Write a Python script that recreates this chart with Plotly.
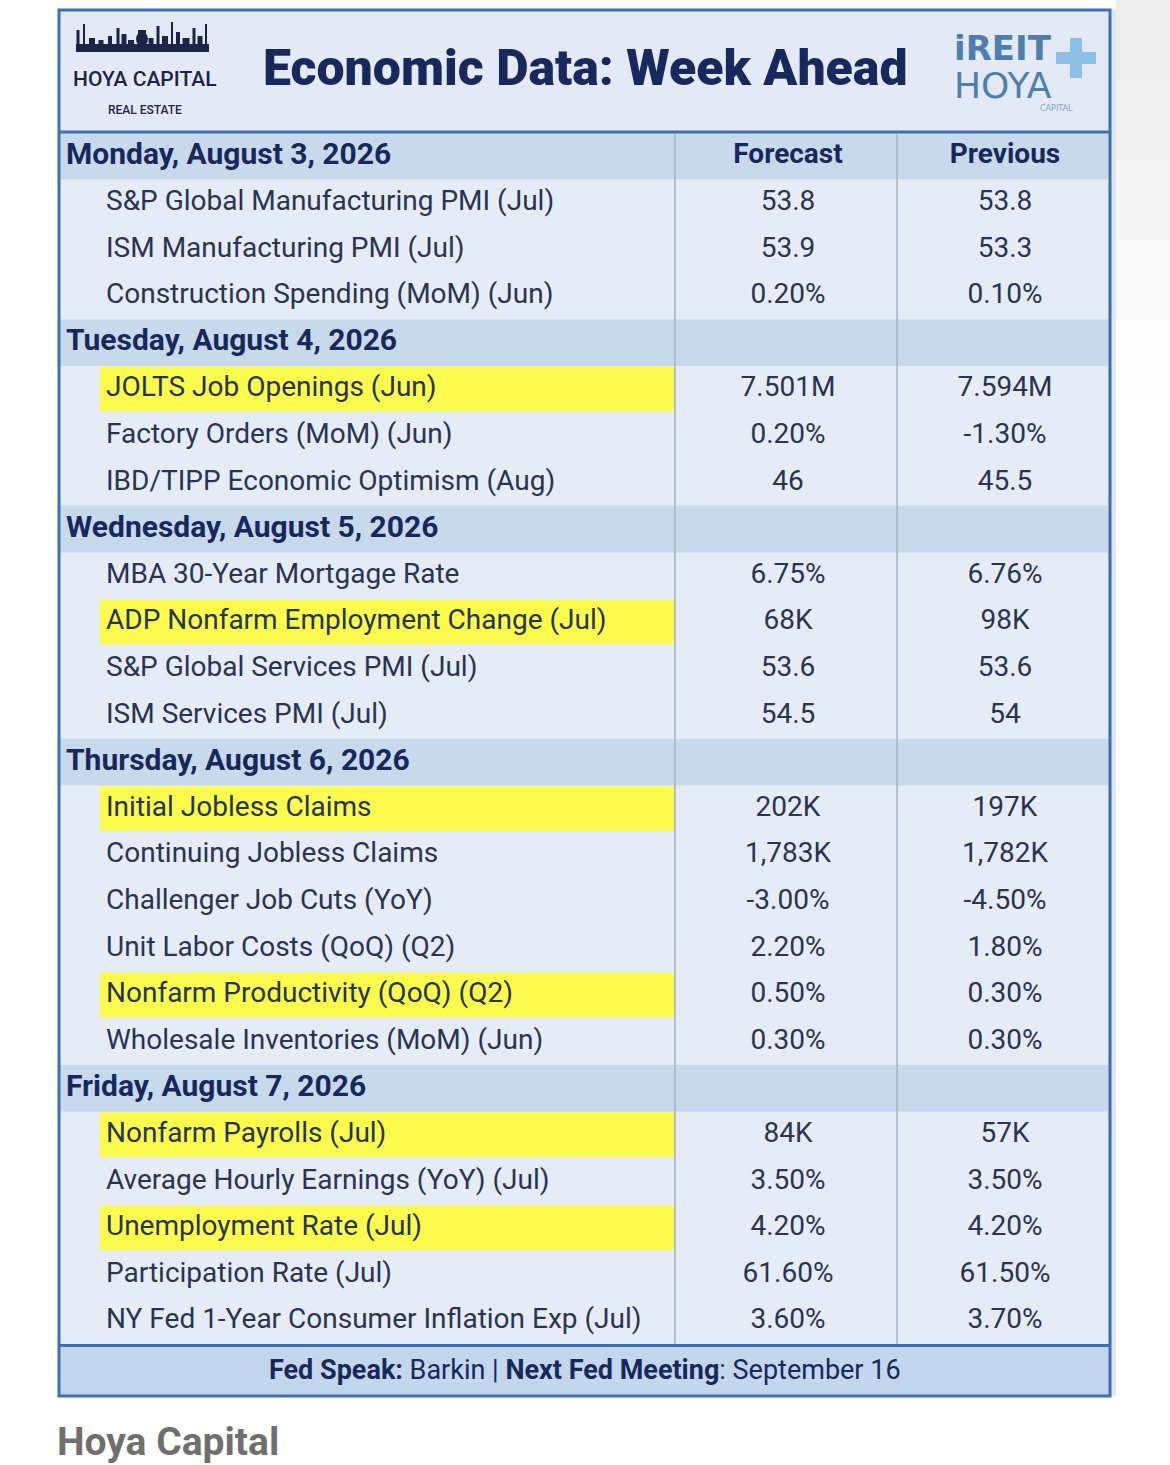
import plotly.graph_objects as go

# ---------------- data ----------------
days = [
    "Monday, August 3, 2026",
    "Tuesday, August 4, 2026",
    "Wednesday, August 5, 2026",
    "Thursday, August 6, 2026",
    "Friday, August 7, 2026",
]
events = [
    "S&P Global Manufacturing PMI (Jul)",
    "ISM Manufacturing PMI (Jul)",
    "Construction Spending (MoM) (Jun)",
    "JOLTS Job Openings (Jun)",
    "Factory Orders (MoM) (Jun)",
    "IBD/TIPP Economic Optimism (Aug)",
    "MBA 30-Year Mortgage Rate",
    "ADP Nonfarm Employment Change (Jul)",
    "S&P Global Services PMI (Jul)",
    "ISM Services PMI (Jul)",
    "Initial Jobless Claims",
    "Continuing Jobless Claims",
    "Challenger Job Cuts (YoY)",
    "Unit Labor Costs (QoQ) (Q2)",
    "Nonfarm Productivity (QoQ) (Q2)",
    "Wholesale Inventories (MoM) (Jun)",
    "Nonfarm Payrolls (Jul)",
    "Average Hourly Earnings (YoY) (Jul)",
    "Unemployment Rate (Jul)",
    "Participation Rate (Jul)",
    "NY Fed 1-Year Consumer Inflation Exp (Jul)",
]
event_day = [0, 0, 0, 1, 1, 1, 2, 2, 2, 2, 3, 3, 3, 3, 3, 3, 4, 4, 4, 4, 4]
forecast = ["53.8", "53.9", "0.20%", "7.501M", "0.20%", "46", "6.75%", "68K", "53.6", "54.5",
            "202K", "1,783K", "-3.00%", "2.20%", "0.50%", "0.30%", "84K", "3.50%", "4.20%",
            "61.60%", "3.60%"]
previous = ["53.8", "53.3", "0.10%", "7.594M", "-1.30%", "45.5", "6.76%", "98K", "53.6", "54",
            "197K", "1,782K", "-4.50%", "1.80%", "0.30%", "0.30%", "57K", "3.50%", "4.20%",
            "61.50%", "3.70%"]
highlighted = [False, False, False, True, False, False, False, True, False, False,
               True, False, False, False, True, False, True, False, True, False, False]
column_headers = ["Forecast", "Previous"]
title_text = "Economic Data: Week Ahead"
footer_text = "<b>Fed Speak:</b> Barkin | <b>Next Fed Meeting</b>: September 16"
source_text = "Hoya Capital"

# ---------------- styling / geometry (page pixels) ----------------
FONT = "Roboto, sans-serif"
W, H = 1170, 1465
FRAME_L, FRAME_R = 59, 1110
FRAME_T, FRAME_B = 10, 1396
TITLE_B = 132
ROW0 = 133
ROW_H = 46.6
COL1, COL2 = 675, 897
X_LABEL, X_DAY, X_HL = 106, 66, 100
X_FC, X_PR = 788, 1005

NAVY = "#16285c"
TEXT = "#283452"
BORDER = "#3f6fb3"
ROW_BG = "#e6ecf6"
DAY_BG = "#c9d9ec"
YELLOW = "#fbfb4e"

rows = []  # (kind, index)
for d in range(len(days)):
    rows.append(("day", d))
    for i, ed in enumerate(event_day):
        if ed == d:
            rows.append(("event", i))

def row_top(r):
    return ROW0 + r * ROW_H

def row_mid(r):
    return ROW0 + (r + 0.5) * ROW_H

TABLE_B = row_top(len(rows))

shapes = []
# faint grey shading at the top right of the page
for k, a in enumerate([0.07, 0.055, 0.04, 0.025, 0.012]):
    shapes.append(dict(type="rect", x0=1116, x1=W, y0=k * 80, y1=(k + 1) * 80,
                       fillcolor=f"rgba(0,0,0,{a})", line_width=0, layer="below"))
# faint blue spill right of the frame
shapes.append(dict(type="rect", x0=FRAME_R, x1=1116, y0=FRAME_T, y1=FRAME_B,
                   fillcolor="#dfe7f3", line_width=0, layer="below"))
shapes.append(dict(type="rect", x0=FRAME_L, x1=FRAME_R, y0=FRAME_T, y1=TITLE_B,
                   fillcolor="#e3eaf5", line_width=0, layer="below"))
shapes.append(dict(type="rect", x0=FRAME_L, x1=FRAME_R, y0=TITLE_B, y1=TABLE_B,
                   fillcolor=ROW_BG, line_width=0, layer="below"))

day_x, day_y, day_t = [], [], []
lab_x, lab_y, lab_t = [], [], []
fc_y, fc_t, pr_y, pr_t = [], [], [], []

for r, (kind, idx) in enumerate(rows):
    y0, y1 = row_top(r), row_top(r + 1)
    if kind == "day":
        shapes.append(dict(type="rect", x0=FRAME_L, x1=FRAME_R, y0=y0, y1=y1,
                           fillcolor=DAY_BG, line_width=0, layer="below"))
        day_x.append(X_DAY); day_y.append(row_mid(r)); day_t.append(days[idx])
    else:
        if highlighted[idx]:
            shapes.append(dict(type="rect", x0=X_HL, x1=COL1, y0=y0 + 1, y1=y1 - 1,
                               fillcolor=YELLOW, line_width=0, layer="below"))
        lab_x.append(X_LABEL); lab_y.append(row_mid(r)); lab_t.append(events[idx])
        fc_y.append(row_mid(r)); fc_t.append(forecast[idx])
        pr_y.append(row_mid(r)); pr_t.append(previous[idx])

shapes.append(dict(type="rect", x0=FRAME_L, x1=FRAME_R, y0=TABLE_B, y1=FRAME_B,
                   fillcolor="#c4d6ec", line_width=0, layer="below"))
for cx in (COL1, COL2):
    shapes.append(dict(type="line", x0=cx, x1=cx, y0=TITLE_B, y1=TABLE_B,
                       line=dict(color="#a3b3c8", width=1.5)))
for yy in (TITLE_B, TABLE_B + 1):
    shapes.append(dict(type="line", x0=FRAME_L, x1=FRAME_R, y0=yy, y1=yy,
                       line=dict(color=BORDER, width=3)))
shapes.append(dict(type="rect", x0=FRAME_L, x1=FRAME_R, y0=FRAME_T, y1=FRAME_B,
                   line=dict(color=BORDER, width=3), fillcolor="rgba(0,0,0,0)"))

# ---- left logo skyline ----
LOGO = "#1b2447"
shapes.append(dict(type="rect", x0=76, x1=209, y0=44, y1=52, fillcolor=LOGO, line_width=0))
buildings = [(78, 30, 3), (84, 24, 2), (92, 38, 6), (101, 40, 5), (110, 36, 4), (118, 28, 3),
             (124, 34, 5), (131, 40, 6), (142, 30, 8), (151, 38, 5), (158, 26, 3),
             (165, 36, 6), (172, 22, 2), (178, 32, 4), (186, 38, 7), (194, 28, 3),
             (200, 36, 5), (206, 24, 2)]
for bx, bt, bw in buildings:
    shapes.append(dict(type="rect", x0=bx - bw / 2, x1=bx + bw / 2, y0=bt, y1=45,
                       fillcolor=LOGO, line_width=0))
shapes.append(dict(type="circle", x0=136, x1=148, y0=32, y1=46, fillcolor=LOGO, line_width=0))

# ---- right logo cross ----
CROSS = "#8dc0e6"
shapes.append(dict(type="rect", x0=1070, x1=1082, y0=38, y1=78, fillcolor=CROSS, line_width=0))
shapes.append(dict(type="rect", x0=1056, x1=1096, y0=52, y1=64, fillcolor=CROSS, line_width=0))

fig = go.Figure()
fig.add_trace(go.Scatter(x=day_x, y=day_y, text=day_t, mode="text", textposition="middle right",
                         textfont=dict(family=FONT, size=30, color=NAVY, weight=700),
                         hoverinfo="skip"))
fig.add_trace(go.Scatter(x=[X_FC, X_PR], y=[row_mid(0)] * 2, text=column_headers, mode="text",
                         textposition="middle center",
                         textfont=dict(family=FONT, size=28, color=NAVY, weight=700),
                         hoverinfo="skip"))
fig.add_trace(go.Scatter(x=lab_x, y=lab_y, text=lab_t, mode="text", textposition="middle right",
                         textfont=dict(family=FONT, size=28, color=TEXT), hoverinfo="skip"))
fig.add_trace(go.Scatter(x=[X_FC] * len(fc_t), y=fc_y, text=fc_t, mode="text",
                         textposition="middle center",
                         textfont=dict(family=FONT, size=28, color=TEXT), hoverinfo="skip"))
fig.add_trace(go.Scatter(x=[X_PR] * len(pr_t), y=pr_y, text=pr_t, mode="text",
                         textposition="middle center",
                         textfont=dict(family=FONT, size=28, color=TEXT), hoverinfo="skip"))

annotations = [
    dict(x=585, y=68, text=title_text, showarrow=False,
         font=dict(family=FONT, size=50, color=NAVY, weight=900),
         xanchor="center", yanchor="middle"),
    dict(x=145, y=79, text="HOYA CAPITAL", showarrow=False,
         font=dict(family=FONT, size=21, color=LOGO, weight=500),
         xanchor="center", yanchor="middle"),
    dict(x=145, y=110, text="REAL ESTATE", showarrow=False,
         font=dict(family=FONT, size=12, color=LOGO, weight=500),
         xanchor="center", yanchor="middle"),
    dict(x=1003, y=48, text="iREIT", showarrow=False,
         font=dict(family="DejaVu Sans, sans-serif", size=34, color="#4d7fae", weight=700),
         xanchor="center", yanchor="middle"),
    dict(x=1003, y=85, text="HOYA", showarrow=False,
         font=dict(family="DejaVu Sans, sans-serif", size=36, color="#4d7fae"),
         xanchor="center", yanchor="middle"),
    dict(x=1056, y=108, text="CAPITAL", showarrow=False,
         font=dict(family="DejaVu Sans, sans-serif", size=8, color="#7fa3c6"),
         xanchor="center", yanchor="middle"),
    dict(x=585, y=(TABLE_B + FRAME_B) / 2, text=footer_text, showarrow=False,
         font=dict(family=FONT, size=27, color=NAVY), xanchor="center", yanchor="middle"),
    dict(x=55, y=1442, text=source_text, showarrow=False,
         font=dict(family=FONT, size=39, color="#6f6f6f", weight=700),
         xanchor="left", yanchor="middle"),
]

fig.update_layout(
    width=W, height=H,
    margin=dict(l=0, r=0, t=0, b=0),
    paper_bgcolor="white", plot_bgcolor="white",
    showlegend=False,
    shapes=shapes,
    annotations=annotations,
    xaxis=dict(range=[0, W], visible=False, fixedrange=True),
    yaxis=dict(range=[H, 0], visible=False, fixedrange=True),
)

fig.write_html("out.html", config={"displayModeBar": False},
               post_script="document.body.style.margin='0';document.body.style.overflow='hidden';")
